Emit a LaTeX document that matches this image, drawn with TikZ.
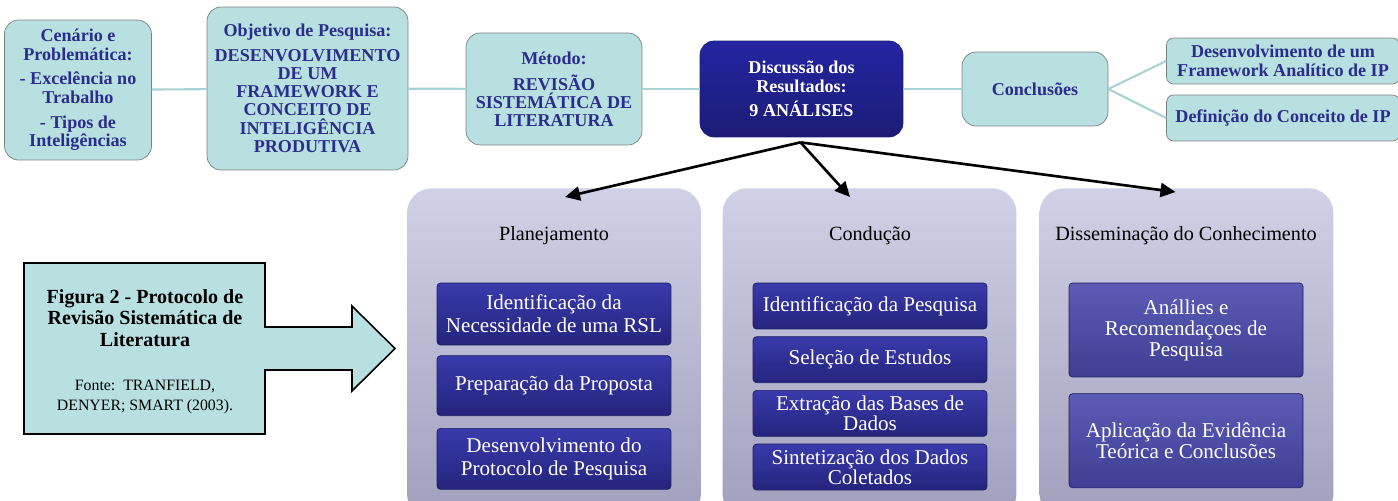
\documentclass[tikz,border=0pt]{standalone}
\usepackage{fontspec}
\setmainfont{Liberation Serif}
\usetikzlibrary{arrows.meta,positioning}

\definecolor{cyanbox}{RGB}{185,224,225}
\definecolor{tealline}{RGB}{168,210,212}
\definecolor{navytext}{RGB}{43,45,140}
\definecolor{boxedge}{RGB}{120,130,130}
\definecolor{disctop}{RGB}{36,36,162}
\definecolor{discbot}{RGB}{28,28,118}
\definecolor{paneltop}{RGB}{208,208,230}
\definecolor{panelbot}{RGB}{160,160,190}
\definecolor{steptop}{RGB}{58,58,172}
\definecolor{stepbot}{RGB}{36,36,125}
\definecolor{softtop}{RGB}{92,92,182}
\definecolor{softbot}{RGB}{62,62,148}

\tikzset{
  topbox/.style={draw=boxedge, fill=cyanbox, rounded corners=8pt, align=center,
    text=navytext, font=\fontsize{10.3}{10.8}\selectfont\bfseries, inner sep=2pt},
  discbox/.style={topbox, draw=discbot, top color=disctop, bottom color=discbot, text=white},
  panel/.style={rounded corners=14pt, top color=paneltop, bottom color=panelbot,
    minimum width=5.88cm, minimum height=6.6cm, anchor=north},
  paneltitle/.style={font=\fontsize{11.5}{13}\selectfont},
  stepbox/.style={draw=stepbot!80!black, top color=steptop, bottom color=stepbot,
    rounded corners=2pt, text=white, align=center, minimum width=4.68cm,
    font=\fontsize{12}{13}\selectfont, inner sep=1pt},
  softbox/.style={stepbox, top color=softtop, bottom color=softbot},
  link/.style={draw=tealline, line width=1.2pt},
  pointer/.style={-{Triangle[length=3mm,width=2.8mm]}, line width=1.5pt},
}

\begin{document}
\begin{tikzpicture}[x=0.02cm, y=-0.02cm]
\useasboundingbox (0,0) rectangle (1398,500);
\clip (0,0) rectangle (1398,500);

% three phases
\node[panel] (plan) at (554,188) {};
\node[panel] (cond) at (869.5,188) {};
\node[panel] (diss) at (1186.5,188) {};

\node[paneltitle] (plant) at (554,236) {Planejamento};
\node[paneltitle] (condt) at (870,236) {Condução};
\node[paneltitle] (disst) at (1186,236) {Disseminação do Conhecimento};

\node[stepbox, minimum height=1.24cm] (p1) at (554,314) {Identificação da\\Necessidade de uma RSL};
\node[stepbox, minimum height=1.2cm, below=0.2cm of p1] (p2) {Preparação da Proposta};
\node[stepbox, minimum height=1.22cm, below=0.24cm of p2] (p3) {Desenvolvimento do\\Protocolo de Pesquisa};

\node[stepbox, minimum height=0.92cm, font=\fontsize{12}{11.5}\selectfont] (c1) at (870,306) {Identificação da Pesquisa};
\node[stepbox, minimum height=0.92cm, font=\fontsize{12}{11.5}\selectfont, below=0.14cm of c1] (c2) {Seleção de Estudos};
\node[stepbox, minimum height=0.92cm, font=\fontsize{12}{11.5}\selectfont, below=0.14cm of c2] (c3) {Extração das Bases de\\Dados};
\node[stepbox, minimum height=0.92cm, font=\fontsize{12}{11.5}\selectfont, below=0.14cm of c3] (c4) {Sintetização dos Dados\\Coletados};

\node[softbox, minimum height=1.88cm, font=\fontsize{12}{12}\selectfont] (d1) at (1186,330) {Anállies e\\Recomendaçoes de\\Pesquisa};
\node[softbox, minimum height=1.88cm, font=\fontsize{12}{12}\selectfont, below=0.32cm of d1] (d2) {Aplicação da Evidência\\Teórica e Conclusões};

% top row
\node[topbox, minimum width=2.94cm, minimum height=2.8cm] (cen) at (78,90)
  {Cenário e\\Problemática:\\[3pt]- Excelência no\\Trabalho\\[3pt]- Tipos de\\Inteligências};
\node[topbox, minimum width=4.02cm, minimum height=3.26cm, font=\fontsize{10.3}{10.4}\selectfont\bfseries] (obj) at (307.5,88.5)
  {Objetivo de Pesquisa:\\[3.5pt]DESENVOLVIMENTO\\DE UM\\FRAMEWORK E\\CONCEITO DE\\INTELIGÊNCIA\\PRODUTIVA};
\node[topbox, minimum width=3.52cm, minimum height=2.24cm, font=\fontsize{10.3}{10.3}\selectfont\bfseries] (met) at (554,89)
  {Método:\\[4.5pt]REVISÃO\\SISTEMÁTICA DE\\LITERATURA};
\node[discbox, minimum width=4.06cm, minimum height=1.92cm] (disc) at (801.5,89)
  {Discussão dos\\Resultados:\\[3pt]9 ANÁLISES};
\node[topbox, minimum width=2.92cm, minimum height=1.48cm] (conc) at (1035,89) {Conclusões};
\node[topbox, rounded corners=4pt, minimum width=4.66cm, minimum height=0.92cm] (fw) at (1283,61)
  {Desenvolvimento de um\\Framework Analítico de IP};
\node[topbox, rounded corners=4pt, minimum width=4.66cm, minimum height=0.92cm] (defi) at (1283,118)
  {Definição do Conceito de IP};

\path[link]
(cen) edge (obj)
(obj) edge (met)
(met) edge (disc)
(disc) edge (conc)
(conc.east) edge (fw.west)
(conc.east) edge (defi.west);

% arrows to the phases
\coordinate (hub) at ([shift={(-1,5)}]disc.south);
\draw[pointer] (hub) -- ([shift={(11,9)}]plan.north);
\draw[pointer] (hub) -- ([shift={(-19.5,9)}]cond.north);
\draw[pointer] (hub) -- ([shift={(-11,4)}]diss.north);

% figure caption arrow
\draw[fill=cyanbox, line width=0.9pt] (24,263) -- (265,263) -- (265,327) -- (352,327)
  -- (352,306) -- (395,348.5) -- (352,391) -- (352,370) -- (265,370) -- (265,434)
  -- (24,434) -- cycle;
\node[align=center, font=\fontsize{11.4}{12.2}\selectfont\bfseries] (figt) at (145,318)
  {Figura 2 - Protocolo de\\Revisão Sistemática de\\Literatura};
\node[align=center, font=\fontsize{9}{11.3}\selectfont] (fonte) at (145,397)
  {Fonte:\ \ TRANFIELD,\\DENYER; SMART (2003).};
\end{tikzpicture}
\end{document}
